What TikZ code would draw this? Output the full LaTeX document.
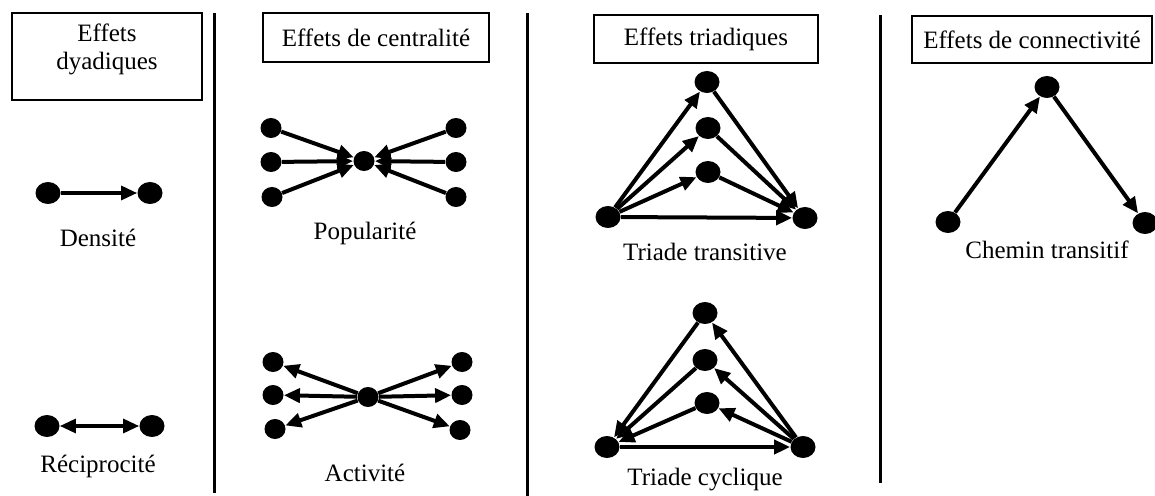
\documentclass[tikz,border=0pt]{standalone}
\usepackage{fontspec}
\setmainfont{Liberation Serif}
\usetikzlibrary{arrows.meta,positioning,shapes.geometric}

\begin{document}
\begin{tikzpicture}[x=0.5pt,y=-0.5pt,
    >={Triangle[length=8pt,width=7pt]},
    font=\fontsize{12.5}{13.5}\selectfont]
  \tikzstyle{dotB}=[ellipse,fill=black,inner sep=0pt,minimum width=12.5pt,minimum height=11pt]
  \tikzstyle{dotS}=[ellipse,fill=black,inner sep=0pt,minimum width=10.5pt,minimum height=10pt]
  \tikzstyle{arr}=[->,line width=2pt]
  \tikzstyle{titleBox}=[draw,line width=0.9pt,inner sep=0pt,align=center]
  \tikzstyle{sepLine}=[line width=1.5pt]

  \useasboundingbox (0,0) rectangle (1155,496);

  % Titles
  \node[titleBox,minimum width=95pt,minimum height=43.5pt]   (tDyad)  at (107,56.5) {};
  \node[align=center,font=\fontsize{12.5}{14}\selectfont] (tDyadTxt) at (107,49) {Effets\\dyadiques};
  \node[titleBox,minimum width=113pt,minimum height=24.5pt]  (tCentr) at (376,37.5) {Effets de centralité};
  \node[titleBox,minimum width=112pt,minimum height=24pt]    (tTriad) at (706,39)   {Effets triadiques};
  \node[titleBox,minimum width=120pt,minimum height=23.5pt]  (tConn)  at (1032,39.5) {Effets de connectivité};

  % Separators
  \draw[sepLine] (214,13) -- (214,493);
  \draw[sepLine] (527,13) -- (527,496);
  \draw[sepLine] (880,15) -- (880,483);

  % Dyadic effects
  \node[dotB] (d1) at (48,193)  {};
  \node[dotB] (d2) at (150,193) {};
  \node       (dLab) at (98,238) {Densité};
  \node[dotB] (r1) at (47,426)  {};
  \node[dotB] (r2) at (152,426) {};
  \node       (rLab) at (98,466) {Réciprocité};
  \path[arr,line width=1.6pt] (d1) edge (d2);
  \path[arr,line width=1.6pt,<->] (r1) edge (r2);

  % Popularity
  \node[dotS] (pc)  at (364,161) {};
  \node[dotS] (pl1) at (271,128) {};
  \node[dotS] (pl2) at (271,162) {};
  \node[dotS] (pl3) at (272,197) {};
  \node[dotS] (pr1) at (456,128) {};
  \node[dotS] (pr2) at (456,162) {};
  \node[dotS] (pr3) at (456,197) {};
  \node       (pLab) at (365,233) {Popularité};
  \foreach \n in {pl1,pl2,pl3,pr1,pr2,pr3}
    \path[arr] (\n) edge (pc);

  % Activity
  \node[dotS] (ac)  at (368,397) {};
  \node[dotS] (al1) at (273,362) {};
  \node[dotS] (al2) at (273,395) {};
  \node[dotS] (al3) at (275,429) {};
  \node[dotS] (ar1) at (462,362) {};
  \node[dotS] (ar2) at (462,395) {};
  \node[dotS] (ar3) at (460,430) {};
  \node       (aLab) at (365,473) {Activité};
  \foreach \n in {al1,al2,al3,ar1,ar2,ar3}
    \path[arr] (ac) edge (\n);

  % Transitive triad
  \node[dotB] (tTop) at (707,82)  {};
  \node[dotB] (tMid) at (708,128) {};
  \node[dotB] (tLow) at (708,172) {};
  \node[dotB] (tL)   at (608,217) {};
  \node[dotB] (tR)   at (805,218) {};
  \node       (tLab) at (705,252) {Triade transitive};
  \foreach \n in {tTop,tMid,tLow}{
    \path[arr] (tL) edge (\n);
    \path[arr] (\n) edge (tR);
  }
  \path[arr] (tL) edge (tR);

  % Cyclic triad
  \node[dotB] (cTop) at (705,313) {};
  \node[dotB] (cMid) at (705,360) {};
  \node[dotB] (cLow) at (707,403) {};
  \node[dotB] (cL)   at (607,447) {};
  \node[dotB] (cR)   at (803,447) {};
  \node       (cLab) at (705,480) {Triade cyclique};
  \foreach \n in {cTop,cMid,cLow}{
    \path[arr] (\n) edge (cL);
    \path[arr] (cR) edge (\n);
  }
  \path[arr] (cL) edge (cR);

  % Connectivity
  \node[dotB] (kTop) at (1047,87) {};
  \node[dotB] (kL)   at (948,222) {};
  \node[dotB] (kR)   at (1145,223) {};
  \node       (kLab) at (1047,250) {Chemin transitif};
  \path[arr] (kL) edge (kTop);
  \path[arr] (kTop) edge (kR);
\end{tikzpicture}
\end{document}
